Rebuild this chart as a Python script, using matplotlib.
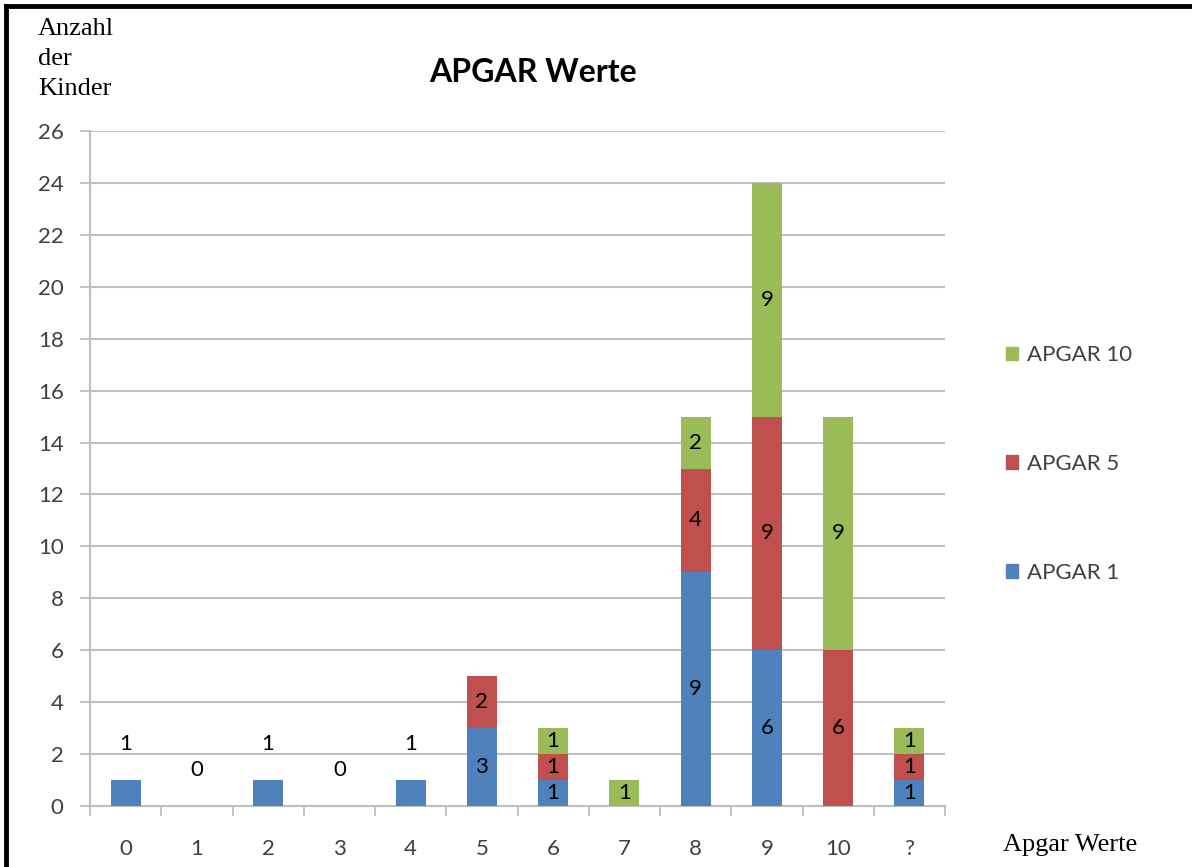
import numpy as np
import matplotlib
matplotlib.use("Agg")
import matplotlib.pyplot as plt
from matplotlib.patches import Patch
from matplotlib.lines import Line2D

# Apgar-Werte der Kinder nach 1, 5 und 10 Minuten
kategorien = ["0", "1", "2", "3", "4", "5", "6", "7", "8", "9", "10", "?"]
apgar1 = [1, 0, 1, 0, 1, 3, 1, 0, 9, 6, 0, 1]
apgar5 = [0, 0, 0, 0, 0, 2, 1, 0, 4, 9, 6, 1]
apgar10 = [0, 0, 0, 0, 0, 0, 1, 1, 2, 9, 9, 1]
# bei diesen Kategorien steht der Wert über dem Balken
oben_beschriftet = ["0", "1", "2", "3", "4"]

blau = "#4F81BD"
rot = "#C0504D"
gruen = "#9BBB59"
grau = "#BFBFBF"
schrift = "#404040"

plt.rcParams["font.family"] = ["Lato", "DejaVu Sans"]

fig = plt.figure(figsize=(11.92, 8.67), dpi=100)
ax = fig.add_axes([90 / 1192, 1 - 806 / 867, 855 / 1192, 675 / 867])

x = np.arange(len(kategorien))
b = 0.42
a1 = np.array(apgar1)
a5 = np.array(apgar5)
a10 = np.array(apgar10)

ax.bar(x, a1, b, color=blau, zorder=3)
ax.bar(x, a5, b, bottom=a1, color=rot, zorder=3)
ax.bar(x, a10, b, bottom=a1 + a5, color=gruen, zorder=3)

# Werte in die Segmente schreiben
for i, k in enumerate(kategorien):
    if k in oben_beschriftet:
        ax.annotate(str(apgar1[i]), (x[i], a1[i]), xytext=(0, 26),
                    textcoords="offset points", ha="center", va="center",
                    fontsize=16, color="black", zorder=4)
        continue
    unten = 0
    for werte in (a1, a5, a10):
        if werte[i] > 0:
            ax.text(x[i], unten + werte[i] / 2, str(werte[i]), ha="center",
                    va="center", fontsize=16, color="black", zorder=4)
        unten += werte[i]

ax.set_xlim(-0.5, len(kategorien) - 0.5)
ax.set_ylim(0, 26)
ax.set_yticks(range(0, 27, 2))
ax.set_xticks(x)
ax.set_xticklabels(kategorien)
ax.set_xticks(np.arange(-0.5, len(kategorien)), minor=True)
ax.tick_params(axis="x", which="major", length=0, pad=24, labelsize=16,
               labelcolor=schrift)
ax.tick_params(axis="x", which="minor", length=7, width=1.3, color=grau,
               direction="out")
ax.tick_params(axis="y", length=7, width=1.3, color=grau, pad=12,
               labelsize=16, labelcolor=schrift)
ax.grid(axis="y", color=grau, linewidth=1.5, zorder=0)
for s in ["top", "right"]:
    ax.spines[s].set_visible(False)
for s in ["left", "bottom"]:
    ax.spines[s].set_color(grau)
    ax.spines[s].set_linewidth(1.5)

fig.text(533 / 1192, 1 - 73 / 867, "APGAR Werte", ha="center", va="center",
         fontsize=23, fontweight="bold", color="black")
fig.text(38 / 1192, 1 - 59 / 867, "Anzahl\nder\nKinder", ha="left",
         va="center", fontsize=19, family="Liberation Serif",
         linespacing=1.45, color="black")
fig.text(1003 / 1192, 1 - 845 / 867, "Apgar Werte", ha="left", va="center",
         fontsize=19, family="Liberation Serif", color="black")

handles = [Patch(color=gruen), Patch(color=rot), Patch(color=blau)]
fig.legend(handles, ["APGAR 10", "APGAR 5", "APGAR 1"], loc="center left",
           bbox_to_anchor=(986 / 1192, 1 - 464 / 867), frameon=False,
           fontsize=16, labelspacing=4.0, handlelength=0.55,
           handleheight=0.55, handletextpad=0.4, labelcolor=schrift)

# schwarzer Rahmen oben und links
fig.add_artist(Line2D([6 / 1192, 1], [1 - 6 / 867, 1 - 6 / 867], color="black",
                      linewidth=3.5, transform=fig.transFigure))
fig.add_artist(Line2D([6 / 1192, 6 / 1192], [0, 1 - 6 / 867], color="black",
                      linewidth=3.5, transform=fig.transFigure))

fig.savefig("out.png", dpi=100)
